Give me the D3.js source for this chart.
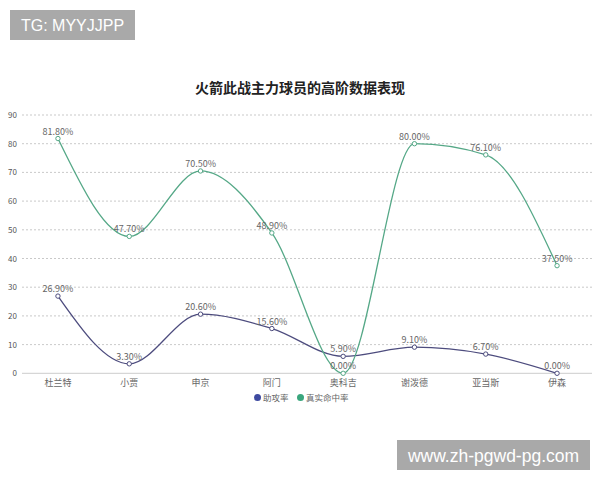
<!DOCTYPE html>
<html><head><meta charset="utf-8">
<script src="https://cdn.jsdelivr.net/npm/d3@7"></script>
<style>body{margin:0;background:#fff}svg{display:block}</style>
</head><body>
<svg id="c" width="600" height="480"></svg>
<script>
const categories = ["杜兰特","小贾","申京","阿门","奥科吉","谢泼德","亚当斯","伊森"];
const assistRate = [26.9, 3.3, 20.6, 15.6, 5.9, 9.1, 6.7, 0.0];
const trueShooting = [81.8, 47.7, 70.5, 48.9, 0.0, 80.0, 76.1, 37.5];
const seriesNames = ["助攻率","真实命中率"];
const yTicks = [0,10,20,30,40,50,60,70,80,90];
const titleText = "火箭此战主力球员的高阶数据表现";

const svg = d3.select("#c");
const font = "'Noto Sans CJK SC','Noto Sans',sans-serif";
const x = d3.scaleBand().domain(categories).range([22.3, 592.7]);
const y = d3.scaleLinear().domain([0,90]).range([373.3, 115]);
const colors = ["#4d4c7e","#55a887"];
const legendColors = ["#3e4aa0","#3aa67d"];

// watermark top
svg.append("rect").attr("x",10).attr("y",10).attr("width",125).attr("height",30).attr("fill","#a9a9a9");
svg.append("text").attr("x",72.5).attr("y",31).attr("text-anchor","middle").attr("fill","#fff")
  .style("font-family","'Liberation Sans',Arial,sans-serif").style("font-size","16px").text("TG: MYYJJPP");

// title
svg.append("text").attr("x",300).attr("y",93).attr("text-anchor","middle").attr("fill","#222")
  .style("font-family",font).style("font-size","14px").style("font-weight","bold").text(titleText);

// grid
const g = svg.append("g");
g.selectAll("line.grid").data(yTicks.filter(d=>d>0)).join("line")
  .attr("x1",22).attr("x2",592).attr("y1",d=>y(d)).attr("y2",d=>y(d))
  .attr("stroke","#bbb").attr("stroke-width",0.8).attr("stroke-dasharray","2,2");
g.append("line").attr("x1",22).attr("x2",592).attr("y1",y(0)).attr("y2",y(0)).attr("stroke","#ccc");

// y axis labels
const yAxis = d3.axisLeft(y).tickValues(yTicks).tickSize(0).tickPadding(0);
svg.append("g").attr("transform","translate(17,0)").call(yAxis)
  .call(s=>s.select(".domain").remove())
  .selectAll("text").attr("fill","#555").style("font-family",font).style("font-size","8px");

// x axis
const xAxis = d3.axisBottom(x).tickSize(0).tickPadding(6);
svg.append("g").attr("transform",`translate(0,${y(0)})`).call(xAxis)
  .call(s=>s.select(".domain").remove())
  .selectAll("text").attr("fill","#666").style("font-family",font).style("font-size","9px");

const cx = d => x(d) + x.bandwidth()/2;
const line = d3.line().x(d=>cx(d.c)).y(d=>y(d.v)).curve(d3.curveMonotoneX);
const series = [assistRate, trueShooting].map((arr,i)=>arr.map((v,j)=>({c:categories[j],v,i})));

series.forEach((s,i)=>{
  svg.append("path").datum(s).attr("d",line).attr("fill","none").attr("stroke",colors[i]).attr("stroke-width",1.3);
});
series.forEach((s,i)=>{
  svg.append("g").selectAll("circle").data(s).join("circle")
    .attr("cx",d=>cx(d.c)).attr("cy",d=>y(d.v)).attr("r",2.2)
    .attr("fill","#fff").attr("stroke",colors[i]).attr("stroke-width",1);
  svg.append("g").selectAll("text").data(s).join("text")
    .attr("x",d=>cx(d.c)).attr("y",d=>y(d.v)-4).attr("text-anchor","middle")
    .attr("fill","#666").style("font-family",font).style("font-size","9px")
    .text(d=>d.v.toFixed(2)+"%");
});

// legend
const leg = svg.append("g");
const legX = [257.5, 300.5];
seriesNames.forEach((n,i)=>{
  leg.append("circle").attr("cx",legX[i]).attr("cy",397.5).attr("r",3.5).attr("fill",legendColors[i]);
  leg.append("text").attr("x",legX[i]+5.5).attr("y",400.5).attr("fill","#666")
    .style("font-family",font).style("font-size","8.5px").text(n);
});

// watermark bottom
svg.append("rect").attr("x",397).attr("y",440).attr("width",193).attr("height",30).attr("fill","#a9a9a9");
svg.append("text").attr("x",493.5).attr("y",461.5).attr("text-anchor","middle").attr("fill","#fff")
  .style("font-family","'Liberation Sans',Arial,sans-serif").style("font-size","17.5px").text("www.zh-pgwd-pg.com");
</script>
</body></html>
